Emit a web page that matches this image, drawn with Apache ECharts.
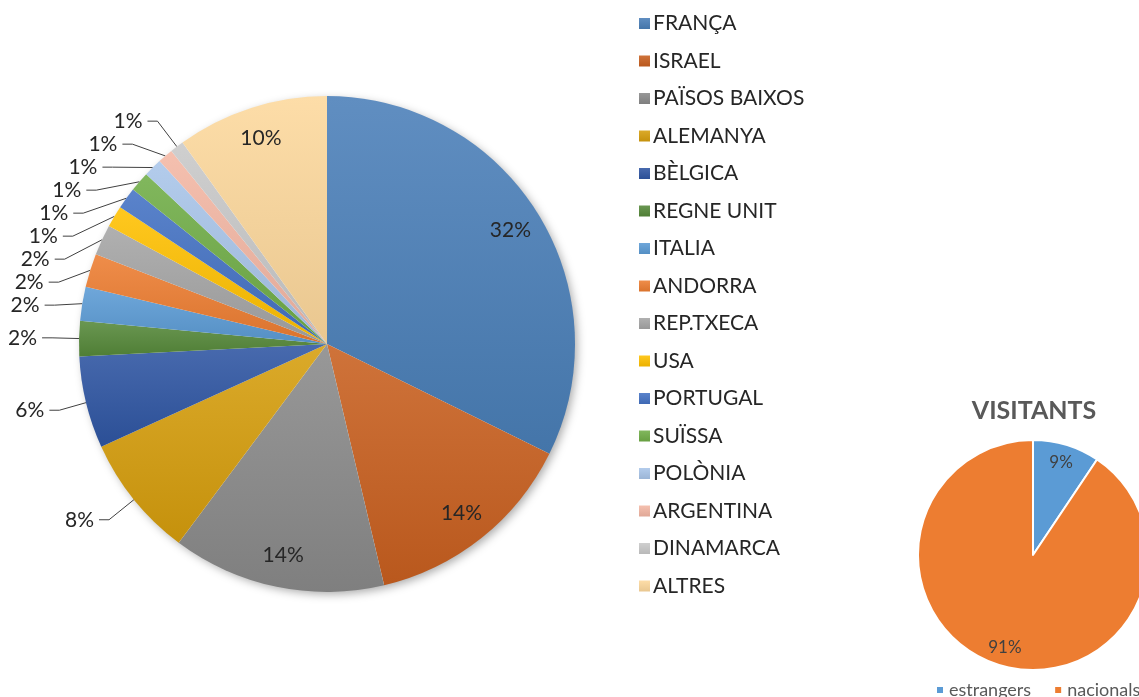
<!DOCTYPE html>
<html>
<head>
<meta charset="utf-8">
<script src="https://cdn.jsdelivr.net/npm/echarts@6/dist/echarts.min.js"></script>
<style>
  html, body { margin: 0; padding: 0; background: #fff; }
  #chart { width: 1139px; height: 697px; }
</style>
</head>
<body>
<div id="chart"></div>
<script>
// visitors by country (share, %)
const countries = ['FRANÇA', 'ISRAEL', 'PAÏSOS BAIXOS', 'ALEMANYA', 'BÈLGICA', 'REGNE UNIT',
  'ITALIA', 'ANDORRA', 'REP.TXECA', 'USA', 'PORTUGAL', 'SUÏSSA', 'POLÒNIA', 'ARGENTINA',
  'DINAMARCA', 'ALTRES'];
const shares = [32.3, 14.0, 13.9, 8.0, 6.0, 2.3, 2.2, 2.2, 2.0, 1.4, 1.4, 1.3, 1.2, 1.0, 0.9, 9.9];
const countryColors = ['#4a7fb8', '#c9601f', '#8a8a8a', '#d69e0d', '#2f56a3', '#56893a',
  '#5b9bd5', '#ed7d31', '#a5a5a5', '#ffc000', '#4472c4', '#70ad47', '#a9c5e9', '#f4b7a4',
  '#c9c9c9', '#fdd89c'];

// visitors: foreign vs national
const origins = ['estrangers', 'nacionals'];
const originShares = [9.4, 90.6];
const originColors = ['#5b9bd5', '#ed7d31'];

const FONT = 'Lato, "Open Sans", sans-serif';
const pct = p => Math.round(p.percent) + '%';

function shade(hex, f) {
  const n = parseInt(hex.slice(1), 16);
  const ch = [(n >> 16) & 255, (n >> 8) & 255, n & 255].map(c =>
    Math.max(0, Math.min(255, Math.round(f > 0 ? c + (255 - c) * f : c * (1 + f)))));
  return 'rgb(' + ch.join(',') + ')';
}

function gradient(hex) {
  return new echarts.graphic.LinearGradient(0, 0, 0, 1, [
    { offset: 0, color: shade(hex, 0.12) },
    { offset: 1, color: shade(hex, -0.08) },
  ]);
}

const bigSlice = v => v >= 9;

const mainData = countries.map((name, i) => ({
  name,
  value: shares[i],
  itemStyle: { color: gradient(countryColors[i]) },
  label: { show: !bigSlice(shares[i]) },
  labelLine: { show: !bigSlice(shares[i]) },
}));

const innerLabelData = countries.map((name, i) => ({
  name,
  value: shares[i],
  label: { show: bigSlice(shares[i]) },
}));

const originData = origins.map((name, i) => ({ name, value: originShares[i] }));

const chart = echarts.init(document.getElementById('chart'));

chart.setOption({
  animation: false,
  title: {
    text: 'VISITANTS',
    left: 1029,
    top: 393,
    textAlign: 'center',
    textStyle: { fontFamily: FONT, fontSize: 25, fontWeight: 'bold', color: '#595959' },
  },
  legend: [
    {
      data: countries,
      orient: 'vertical',
      left: 634,
      top: 8,
      icon: 'rect',
      itemWidth: 11,
      itemHeight: 11,
      itemGap: 16.5,
      selectedMode: false,
      textStyle: { fontFamily: FONT, fontSize: 21, color: '#262626', lineHeight: 20, padding: [0, 0, 0, -2] },
    },
    {
      data: origins,
      orient: 'horizontal',
      left: 930,
      top: 676,
      width: 400,
      icon: 'rect',
      itemWidth: 8,
      itemHeight: 8,
      itemGap: 22,
      selectedMode: false,
      textStyle: { fontFamily: FONT, fontSize: 18, color: '#595959' },
    },
  ],
  series: [
    {
      // soft shadow under the main pie
      type: 'pie',
      center: [327, 344],
      radius: 247,
      silent: true,
      z: 1,
      data: [{ name: 'shadow', value: 1 }],
      itemStyle: {
        color: '#fff',
        shadowBlur: 10,
        shadowOffsetX: 3,
        shadowOffsetY: 3,
        shadowColor: 'rgba(0,0,0,0.35)',
      },
      label: { show: false },
      labelLine: { show: false },
      emphasis: { disabled: true },
    },
    {
      type: 'pie',
      center: [327, 344],
      radius: 248,
      startAngle: 90,
      clockwise: true,
      z: 2,
      data: mainData,
      label: {
        position: 'outside',
        formatter: pct,
        fontFamily: FONT,
        fontSize: 21,
        color: '#262626',
        overflow: 'none',
      },
      labelLine: {
        length: 32,
        length2: 10,
        smooth: false,
        lineStyle: { color: '#404040', width: 1 },
      },
      emphasis: { disabled: true },
    },
    {
      type: 'pie',
      center: [327, 344],
      radius: [178, 248],
      startAngle: 90,
      clockwise: true,
      silent: true,
      z: 3,
      data: innerLabelData,
      itemStyle: { color: 'transparent' },
      label: {
        position: 'inside',
        formatter: pct,
        fontFamily: FONT,
        fontSize: 21,
        color: '#262626',
      },
      labelLine: { show: false },
      emphasis: { disabled: true },
    },
    {
      type: 'pie',
      center: [1033, 555],
      radius: 115,
      startAngle: 90,
      clockwise: true,
      data: originData.map((d, i) => ({ ...d, itemStyle: { color: originColors[i] } })),
      itemStyle: { borderColor: '#fff', borderWidth: 2 },
      label: { show: false },
      labelLine: { show: false },
      emphasis: { disabled: true },
    },
    {
      type: 'pie',
      center: [1033, 555],
      radius: [72, 115],
      startAngle: 90,
      clockwise: true,
      silent: true,
      data: originData,
      itemStyle: { color: 'transparent' },
      label: {
        position: 'inside',
        formatter: pct,
        fontFamily: FONT,
        fontSize: 17,
        color: '#404040',
      },
      labelLine: { show: false },
      emphasis: { disabled: true },
    },
  ],
});
</script>
</body>
</html>
